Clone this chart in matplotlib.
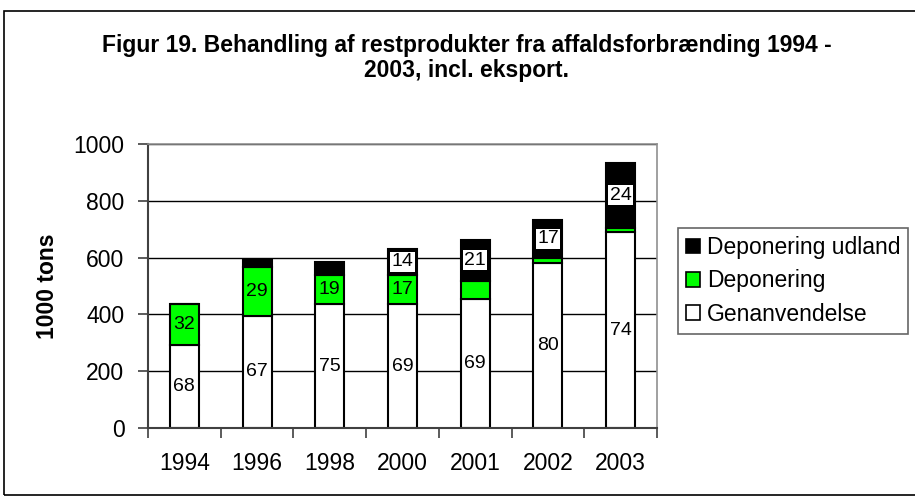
import matplotlib
matplotlib.use("Agg")
import matplotlib.pyplot as plt
from matplotlib.patches import Rectangle

years = ["1994", "1996", "1998", "2000", "2001", "2002", "2003"]
genanvendelse = [292, 395, 435, 435, 455, 581, 690]
deponering = [143, 172, 105, 105, 63, 19, 15]
deponering_udland = [0, 24, 44, 90, 145, 131, 229]

# percent labels as printed in the chart
lab_gen = ["68", "67", "75", "69", "69", "80", "74"]
lab_dep = ["32", "29", "19", "17", "", "", ""]
lab_udl = ["", "", "", "14", "21", "17", "24"]

plt.rcParams["font.family"] = ["Liberation Sans", "DejaVu Sans"]

fig = plt.figure(figsize=(9.15, 4.97), dpi=100)
ax = fig.add_axes([148 / 915, 69 / 497, 509 / 915, 284 / 497])

x = list(range(len(years)))
w = 0.4
bottom2 = [g + d for g, d in zip(genanvendelse, deponering)]

b1 = ax.bar(x, genanvendelse, w, color="white", edgecolor="black", lw=1.5,
            zorder=2, label="Genanvendelse")
b2 = ax.bar(x, deponering, w, bottom=genanvendelse, color="#00ff00",
            edgecolor="black", lw=1.5, zorder=2, label="Deponering")
b3 = ax.bar(x, deponering_udland, w, bottom=bottom2, color="black",
            edgecolor="black", lw=1.5, zorder=3, label="Deponering udland")

for t in ax.bar_label(b1, labels=lab_gen, label_type="center", fontsize=14):
    t.set_zorder(2.5)
for t in ax.bar_label(b2, labels=lab_dep, label_type="center", fontsize=14):
    t.set_zorder(2.5)
for t in ax.bar_label(b3, labels=lab_udl, label_type="center", fontsize=14):
    t.set_zorder(4)
    t.set_bbox(dict(facecolor="white", edgecolor="none", pad=1))

ax.set_ylim(0, 1000)
ax.set_xlim(-0.5, len(years) - 0.5)
ax.set_yticks(range(0, 1001, 200))
ax.yaxis.grid(True, color="black", lw=1, zorder=0)
ax.set_axisbelow(True)
ax.tick_params(axis="y", labelsize=16.5, length=7, width=1.2, pad=10,
               direction="out", color="#404040")

ax.set_xticks(x)
ax.set_xticklabels(years)
ax.set_xticks([i - 0.5 for i in range(len(years) + 1)], minor=True)
ax.tick_params(axis="x", which="major", length=0, labelsize=16.5, pad=17)
ax.tick_params(axis="x", which="minor", length=7, width=1.2, color="#404040")

for s in ["left", "bottom"]:
    ax.spines[s].set_color("#404040")
    ax.spines[s].set_linewidth(1.5)
for s in ["top", "right"]:
    ax.spines[s].set_color("#909090")
    ax.spines[s].set_linewidth(1.2)

ax.set_ylabel("1000 tons", fontsize=16.5, fontweight="bold", labelpad=10)

handles = [b3, b2, b1]
leg = fig.legend(handles, [h.get_label() for h in handles],
                 loc="upper left", bbox_to_anchor=(678 / 915, 1 - 228 / 497),
                 fontsize=16.5, frameon=True, fancybox=False,
                 handlelength=0.6, handleheight=0.6, handletextpad=0.3,
                 labelspacing=0.45, borderpad=0.35, borderaxespad=0)
leg.get_frame().set_edgecolor("#404040")
leg.get_frame().set_linewidth(1.2)
for h in leg.legend_handles:
    h.set_edgecolor("black")
    h.set_linewidth(1.2)

fig.text(0.51, 1 - 58 / 497,
         "Figur 19. Behandling af restprodukter fra affaldsforbrænding 1994 -\n2003, incl. eksport.",
         ha="center", va="center", fontsize=16.5, fontweight="bold",
         multialignment="center", linespacing=1.15)

fig.patches.append(Rectangle((4 / 915, 2 / 497), 1.0, 484 / 497,
                             transform=fig.transFigure, fill=False,
                             edgecolor="black", lw=1.2))

fig.savefig("out.png", dpi=100)
